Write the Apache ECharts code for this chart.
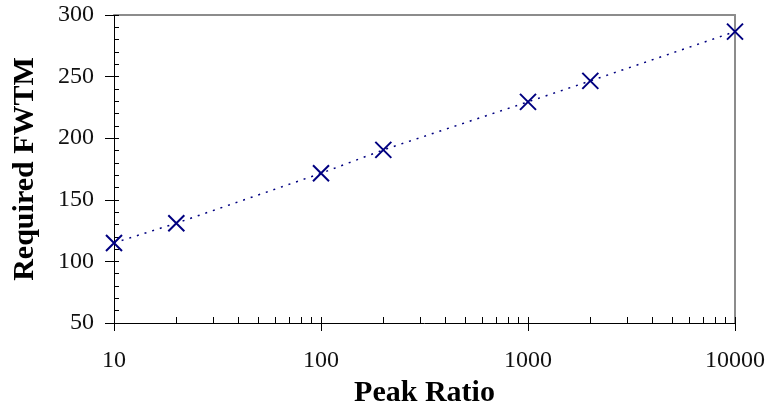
<!DOCTYPE html>
<html>
<head>
<meta charset="utf-8">
<style>
html,body{margin:0;padding:0;background:#fff;}
#chart{width:769px;height:404px;}
</style>
<script src="https://cdn.jsdelivr.net/npm/echarts@6/dist/echarts.min.js"></script>
</head>
<body>
<div id="chart"></div>
<script>
// Data
const peakRatio = [10, 20, 100, 200, 1000, 2000, 10000];
const requiredFWTM = [115, 131, 171.5, 190.5, 229.5, 246.5, 286.5];
const xTickLabels = [10, 100, 1000, 10000];
const yTickLabels = [50, 100, 150, 200, 250, 300];
const xMinorTicks = [10,20,30,40,50,60,70,80,90,100,200,300,400,500,600,700,800,900,1000,2000,3000,4000,5000,6000,7000,8000,9000,10000];
const yMinorTicks = [50,60,70,80,90,100,110,120,130,140,150,160,170,180,190,200,210,220,230,240,250,260,270,280,290,300];

const points = peakRatio.map((x, i) => [x, requiredFWTM[i]]);
const serif = 'Liberation Serif';
const navy = '#000080';
const gridRect = {left: 114, right: 34, top: 15, bottom: 81, containLabel: false, outerBoundsMode: 'none'};

const chart = echarts.init(document.getElementById('chart'), null, {renderer: 'canvas'});
chart.setOption({
  animation: false,
  backgroundColor: '#fff',
  grid: [Object.assign({}, gridRect), Object.assign({}, gridRect)],
  xAxis: [
    {
      type: 'log', logBase: 10, gridIndex: 0, position: 'bottom',
      min: 10, max: 10000,
      name: 'Peak Ratio', nameLocation: 'middle', nameGap: 48,
      nameTextStyle: {fontFamily: serif, fontSize: 30, fontWeight: 'bold', color: '#000'},
      axisLine: {show: true, lineStyle: {color: '#000', width: 1}},
      axisTick: {show: true, inside: false, length: 8, lineStyle: {color: '#000'}, customValues: xTickLabels},
      axisLabel: {show: true, fontFamily: serif, fontSize: 24, color: '#111', margin: 26, customValues: xTickLabels,
                  formatter: v => String(Math.round(v))},
      splitLine: {show: false}, minorTick: {show: false}
    },
    {
      type: 'log', logBase: 10, gridIndex: 0, position: 'top',
      min: 10, max: 10000,
      axisLine: {show: true, lineStyle: {color: '#8c8c8c', width: 2}},
      axisTick: {show: false}, axisLabel: {show: false}, splitLine: {show: false}
    },
    {
      type: 'log', logBase: 10, gridIndex: 1, position: 'bottom',
      min: 10, max: 10000,
      axisLine: {show: false},
      axisTick: {show: true, inside: true, length: 6, lineStyle: {color: '#000'}, customValues: xMinorTicks},
      axisLabel: {show: false}, splitLine: {show: false}
    }
  ],
  yAxis: [
    {
      type: 'value', gridIndex: 0, position: 'left',
      min: 50, max: 300, interval: 50,
      name: 'Required FWTM', nameLocation: 'middle', nameGap: 74, nameRotate: 90,
      nameTextStyle: {fontFamily: serif, fontSize: 30, fontWeight: 'bold', color: '#000'},
      axisLine: {show: true, lineStyle: {color: '#000', width: 1}},
      axisTick: {show: true, inside: false, length: 9, lineStyle: {color: '#000'}},
      axisLabel: {show: true, fontFamily: serif, fontSize: 24, color: '#111', margin: 20, customValues: yTickLabels,
                  formatter: v => String(v)},
      splitLine: {show: false}
    },
    {
      type: 'value', gridIndex: 0, position: 'right',
      min: 50, max: 300, interval: 50,
      axisLine: {show: true, lineStyle: {color: '#8c8c8c', width: 2}},
      axisTick: {show: false}, axisLabel: {show: false}, splitLine: {show: false}
    },
    {
      type: 'value', gridIndex: 1, position: 'left',
      min: 50, max: 300, interval: 50,
      axisLine: {show: false},
      axisTick: {show: true, inside: true, length: 5, lineStyle: {color: '#000'}, customValues: yMinorTicks},
      axisLabel: {show: false}, splitLine: {show: false}
    }
  ],
  series: [
    {
      type: 'line', xAxisIndex: 0, yAxisIndex: 0,
      data: points, symbol: 'none', silent: true,
      lineStyle: {color: navy, width: 1.5, type: [2, 6]}
    },
    {
      type: 'scatter', xAxisIndex: 0, yAxisIndex: 0,
      data: points,
      symbol: 'path://M0,0L10,10M10,0L0,10', symbolSize: 16,
      itemStyle: {color: 'rgba(0,0,0,0)', borderColor: navy, borderWidth: 2, opacity: 1}
    }
  ]
});
</script>
</body>
</html>
